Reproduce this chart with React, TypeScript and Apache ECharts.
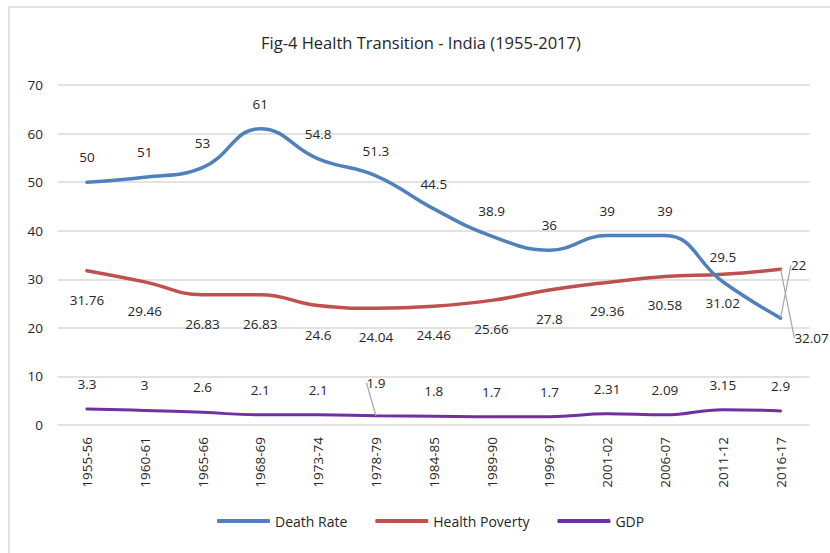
import React, { useEffect, useRef } from "react";
import * as echarts from "echarts";

const categories = ["1955-56", "1960-61", "1965-66", "1968-69", "1973-74", "1978-79", "1984-85", "1989-90", "1996-97", "2001-02", "2006-07", "2011-12", "2016-17"];
const deathRate = [50, 51, 53, 61, 54.8, 51.3, 44.5, 38.9, 36, 39, 39, 29.5, 22];
const healthPoverty = [31.76, 29.46, 26.83, 26.83, 24.6, 24.04, 24.46, 25.66, 27.8, 29.36, 30.58, 31.02, 32.07];
const gdp = [3.3, 3, 2.6, 2.1, 2.1, 1.9, 1.8, 1.7, 1.7, 2.31, 2.09, 3.15, 2.9];
const yTicks = { min: 0, max: 70, interval: 10 };

const FONT = "'Open Sans', sans-serif";
const TXT = "#262626";

export default function App() {
  const ref = useRef<HTMLDivElement>(null);
  useEffect(() => {
    if (!ref.current) return;
    const chart = echarts.init(ref.current, null, { renderer: "svg" });
    const labelStyle = { show: true, fontFamily: FONT, fontSize: 13.5, color: TXT };
    const guide = { show: true, lineStyle: { color: "#a6a6a6", width: 1.2 } };
    chart.setOption({
      animation: false,
      backgroundColor: "#fff",
      title: {
        text: "Fig-4 Health Transition - India (1955-2017)",
        left: 256,
        top: 29,
        textStyle: { fontFamily: FONT, fontSize: 16.5, fontWeight: "normal", color: TXT },
      },
      grid: { left: 58, right: 20.5, top: 85, bottom: 128, containLabel: false },
      legend: {
        bottom: 20,
        left: 212,
        itemWidth: 53,
        itemHeight: 4,
        itemGap: 28,
        icon: "roundRect",
        textStyle: { fontFamily: FONT, fontSize: 14, color: TXT },
        data: ["Death Rate", "Health Poverty", "GDP"],
      },
      xAxis: {
        type: "category",
        data: categories,
        boundaryGap: true,
        axisLine: { show: false },
        axisTick: { show: false },
        axisLabel: { rotate: 90, margin: 12, fontFamily: FONT, fontSize: 13.5, color: TXT, interval: 0 },
      },
      yAxis: {
        type: "value",
        min: yTicks.min,
        max: yTicks.max,
        interval: yTicks.interval,
        axisLine: { show: false },
        axisTick: { show: false },
        axisLabel: { margin: 15, fontFamily: FONT, fontSize: 13.5, color: TXT },
        splitLine: { lineStyle: { color: "#d9d9d9", width: 1.5 } },
      },
      graphic: [
        {
          type: "polyline",
          silent: true,
          shape: { points: [[9, 553], [9, 7], [830, 7]] },
          style: { stroke: "#d9d9d9", lineWidth: 1.5, fill: "none" },
        },
      ],
      series: [
        {
          name: "Death Rate",
          type: "line",
          smooth: 0.45,
          symbol: "circle",
          symbolSize: 0,
          showSymbol: true,
          color: "#4f81bd",
          lineStyle: { width: 3.5, color: "#4f81bd", cap: "round" },
          label: { ...labelStyle, position: "top", distance: 18 },
          labelLine: { show: false },
          labelLayout: (p: any) => (p.dataIndex === 12 ? { dx: 18, dy: -28 } : {}),
          data: deathRate.map((v, i) => (i === 12 ? { value: v, labelLine: guide } : v)),
          z: 3,
        },
        {
          name: "Health Poverty",
          type: "line",
          smooth: 0.45,
          symbol: "circle",
          symbolSize: 0,
          showSymbol: true,
          color: "#c0504d",
          lineStyle: { width: 3.5, color: "#c0504d", cap: "round" },
          label: { ...labelStyle, position: "bottom", distance: 22 },
          labelLine: { show: false },
          labelLayout: (p: any) => (p.dataIndex === 12 ? { dx: 31, dy: 40 } : {}),
          data: healthPoverty.map((v, i) => (i === 12 ? { value: v, labelLine: guide } : v)),
          z: 2,
        },
        {
          name: "GDP",
          type: "line",
          smooth: 0.45,
          symbol: "circle",
          symbolSize: 0,
          showSymbol: true,
          color: "#7030a0",
          lineStyle: { width: 3, color: "#7030a0", cap: "round" },
          label: { ...labelStyle, position: "top", distance: 18 },
          labelLine: { show: false },
          labelLayout: (p: any) => (p.dataIndex === 5 ? { dy: -8 } : {}),
          data: gdp.map((v, i) => (i === 5 ? { value: v, labelLine: guide } : v)),
          z: 1,
        },
      ],
    });
    return () => chart.dispose();
  }, []);
  return <div ref={ref} style={{ width: 830, height: 553, position: "absolute", left: 0, top: 0 }} />;
}
